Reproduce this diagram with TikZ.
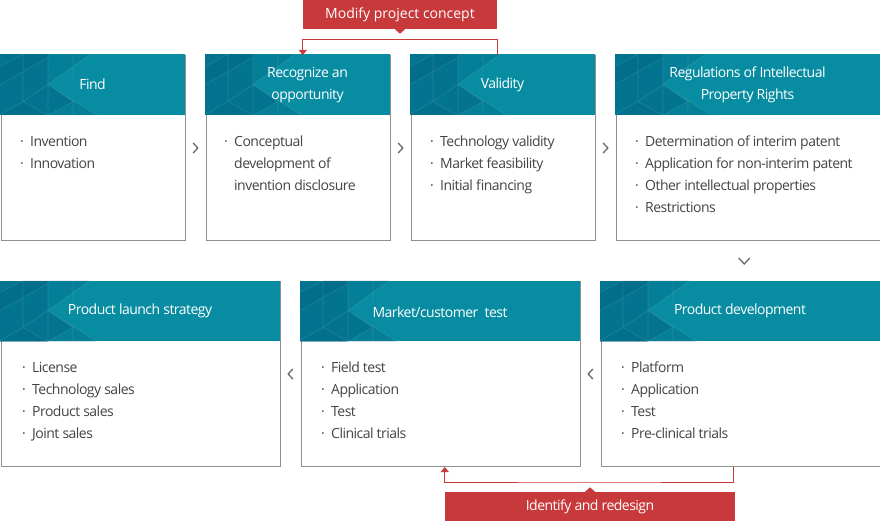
\documentclass[tikz,border=0pt]{standalone}
\usepackage{fontspec}
\setmainfont{Open Sans}
\newfontfamily\tightfont{Open Sans}[LetterSpace=-3.7]
\usetikzlibrary{calc,arrows.meta}
\definecolor{teal0}{HTML}{078CA1}
\definecolor{tealdark}{HTML}{00587A}
\definecolor{redl}{HTML}{C8393B}
\definecolor{txt}{HTML}{444444}
\definecolor{bord}{HTML}{8E8E8E}
\definecolor{chevc}{HTML}{6A6A6A}
\newcommand{\hpat}[1]{%
  \begin{scope}
    \clip (#1.north west) rectangle (#1.south east);
    \begin{scope}[shift={(#1.north west)}]
      \fill[tealdark, opacity=.45] (0,0) -- (48,0) -- (48,61) -- (0,61) -- cycle;
      \fill[tealdark, opacity=.25] (48,0) -- (90,0) -- (48,30) -- (97,61) -- (48,61) -- cycle;
      \fill[tealdark, opacity=.25] (48,30) -- (73,47) -- (48,61) -- cycle;
      \fill[tealdark, opacity=.2] (0,30) -- (48,3) -- (48,0) -- (23,0) -- (0,12) -- cycle;
      \fill[tealdark, opacity=.15] (0,61) -- (23,47) -- (48,61) -- cycle;
      \draw[white, opacity=.12, line width=.6pt]
        (23,0) -- (23,47) (48,0) -- (48,61) (73,0) -- (73,24) (73,47) -- (73,61)
        (0,30) -- (48,3) (0,60) -- (23,47) -- (48,61) (48,30) -- (73,47) -- (48,61)
        (0,12) -- (23,0) (23,47) -- (48,30) (48,30) -- (90,0) (48,30) -- (97,61);
    \end{scope}
  \end{scope}}
\newcommand{\bul}{\makebox[10pt][l]{·}}
\newcommand{\ind}{\hspace*{10pt}}
\tikzset{
  boxframe/.style={draw=bord, line width=1pt, fill=white, rectangle, inner sep=0pt, anchor=north west, minimum height=185pt},
  headbar/.style={fill=teal0, rectangle, inner sep=0pt, outer sep=0pt, anchor=north west, minimum height=60.5pt},
  headtext/.style={text=white, font=\tightfont\fontsize{14}{22}\selectfont, align=center, inner sep=0pt},
  bodytext/.style={text=txt, font=\tightfont\fontsize{14}{22}\selectfont, inner sep=0pt, anchor=north west, align=left},
  redlabel/.style={fill=redl, text=white, font=\fontsize{14}{22}\selectfont, inner sep=0pt, minimum height=29pt},
  fb/.style={draw=redl, line width=1pt, -{Triangle[width=8pt,length=5pt]}},
  chev/.style={draw=chevc, line width=1.3pt},
}
\begin{document}
\begin{tikzpicture}[x=1pt, y=-1pt]
\useasboundingbox[fill=white] (0,0) rectangle (880,521);

% top row boxes
\node[boxframe, minimum width=184pt] (find) at (0.5,55) {};
\node[boxframe, minimum width=184pt] (rec) at (205.5,55) {};
\node[boxframe, minimum width=184pt] (val) at (410.5,55) {};
\node[boxframe, minimum width=264pt] (reg) at (615.5,55) {};
% bottom row boxes
\node[boxframe, minimum width=279pt] (launch) at (0.5,281) {};
\node[boxframe, minimum width=279pt] (mkt) at (300.5,281) {};
\node[boxframe, minimum width=279pt] (dev) at (600.5,281) {};

% headers
\node[headbar, minimum width=185pt] (findh) at (0,54.5) {};
\node[headbar, minimum width=185pt] (rech) at (205,54.5) {};
\node[headbar, minimum width=185pt] (valh) at (410,54.5) {};
\node[headbar, minimum width=265pt] (regh) at (615,54.5) {};
\node[headbar, minimum width=280pt] (launchh) at (0,280.5) {};
\node[headbar, minimum width=280pt] (mkth) at (300,280.5) {};
\node[headbar, minimum width=280pt] (devh) at (600,280.5) {};
\hpat{findh}\hpat{rech}\hpat{valh}\hpat{regh}
\hpat{launchh}\hpat{mkth}\hpat{devh}

\node[headtext] (findt) at (findh.center) {Find};
\node[headtext] (rect) at ($(rech.center)+(10,0)$) {Recognize an\\opportunity};
\node[headtext] (valt) at (valh.center) {Validity};
\node[headtext] (regt) at (regh.center) {Regulations of Intellectual\\Property Rights};
\node[headtext] (launcht) at (launchh.center) {Product launch strategy};
\node[headtext] (mktt) at ($(mkth.center)+(0,1)$) {Market/customer\ \ test};
\node[headtext] (devt) at (devh.center) {Product development};

% body texts
\node[bodytext] (findb) at (20,131.1) {\strut\bul Invention\\\strut\bul Innovation};
\node[bodytext] (recb) at (224,131.1) {\strut\bul Conceptual\\\strut\ind development of\\\strut\ind invention disclosure};
\node[bodytext] (valb) at (430,131.1) {\strut\bul Technology validity\\\strut\bul Market feasibility\\\strut\bul Initial financing};
\node[bodytext] (regb) at (635,131.1) {\strut\bul Determination of interim patent\\\strut\bul Application for non-interim patent\\\strut\bul Other intellectual properties\\\strut\bul Restrictions};
\node[bodytext] (launchb) at (22,356.6) {\strut\bul License\\\strut\bul Technology sales\\\strut\bul Product sales\\\strut\bul Joint sales};
\node[bodytext] (mktb) at (321,356.6) {\strut\bul Field test\\\strut\bul Application\\\strut\bul Test\\\strut\bul Clinical trials};
\node[bodytext] (devb) at (621,356.6) {\strut\bul Platform\\\strut\bul Application\\\strut\bul Test\\\strut\bul Pre-clinical trials};

% chevrons
\draw[chev] ($(find.east)!0.5!(rec.west)$) ++(-2.3,-5) -- ++(4.6,5) -- ++(-4.6,5);
\draw[chev] ($(rec.east)!0.5!(val.west)$) ++(-2.3,-5) -- ++(4.6,5) -- ++(-4.6,5);
\draw[chev] ($(val.east)!0.5!(reg.west)$) ++(-2.3,-5) -- ++(4.6,5) -- ++(-4.6,5);
\draw[chev] ($(reg.south)!0.5!(dev.north)$) ++(-5.5,-3) -- ++(5.5,6) -- ++(5.5,-6);
\draw[chev] ($(launch.east)!0.5!(mkt.west)$) ++(2.3,-5) -- ++(-4.6,5) -- ++(4.6,5);
\draw[chev] ($(mkt.east)!0.5!(dev.west)$) ++(2.3,-5) -- ++(-4.6,5) -- ++(4.6,5);

% red feedback labels
\node[redlabel, minimum width=194pt] (mod) at (400,14.5) {Modify project concept};
\fill[redl] ($(mod.south)+(-5,0)$) -- ($(mod.south)+(5,0)$) -- ($(mod.south)+(0,4.5)$) -- cycle;
\coordinate (fbtop) at (400,39.5);
\draw[fb] (val.north -| mod.east) |- (fbtop) -| (rec.north -| mod.west);

\node[redlabel, minimum width=290pt, font=\tightfont\fontsize{14}{22}\selectfont] (idr) at (590,506.5) {Identify and redesign};
\fill[redl] ($(idr.north)+(-5,0)$) -- ($(idr.north)+(5,0)$) -- ($(idr.north)+(0,-4.5)$) -- cycle;
\coordinate (fbbot) at (590,482);
\draw[fb] ($(dev.south -| idr.east)+(-2,0)$) |- (fbbot) -| (mkt.south -| idr.west);
\end{tikzpicture}
\end{document}
